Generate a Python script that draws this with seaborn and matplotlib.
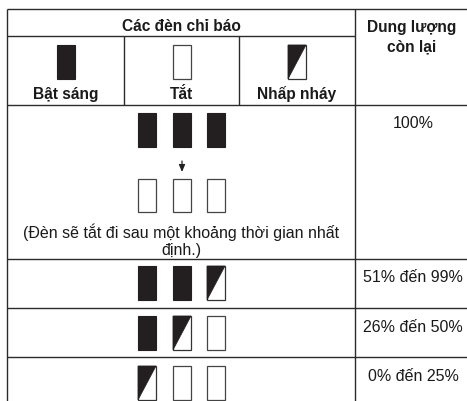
import matplotlib
matplotlib.use("Agg")
import matplotlib.pyplot as plt
from matplotlib.patches import Rectangle, Polygon
import seaborn as sns

# ---- data ----
header_left = "Các đèn chỉ báo"
header_right = ["Dung lượng", "còn lại"]
indicator_labels = ["Bật sáng", "Tắt", "Nhấp nháy"]
indicator_states = ["on", "off", "blink"]
capacity_labels = ["100%", "51% đến 99%", "26% đến 50%", "0% đến 25%"]
row_patterns = [["on", "on", "on"],
                ["on", "on", "blink"],
                ["on", "blink", "off"],
                ["blink", "off", "off"]]
full_after_pattern = ["off", "off", "off"]
note_lines = ["(Đèn sẽ tắt đi sau một khoảng thời gian nhất", "định.)"]

sns.set_theme(style="white")
plt.rcParams['font.family'] = ['Liberation Sans', 'DejaVu Sans']

W, H = 467, 402
fig = plt.figure(figsize=(W / 100, H / 100), dpi=100)
ax = fig.add_axes([0, 0, 1, 1])
ax.set_xlim(0, W)
ax.set_ylim(H, 0)
ax.axis("off")

LINE = "#2b2b2b"
FILL = "#231f20"
TXT = "#1a1a1a"
LW = 1.0
FSB = 11.2
FS = 11.5

def hline(y, x0, x1):
    ax.plot([x0, x1], [y, y], color=LINE, lw=LW, solid_capstyle="butt")

def vline(x, y0, y1):
    ax.plot([x, x], [y0, y1], color=LINE, lw=LW, solid_capstyle="butt")

def lamp(cx, top, state, w=18, h=34):
    x0 = cx - w / 2
    if state == "on":
        ax.add_patch(Rectangle((x0, top), w, h, facecolor=FILL, edgecolor=FILL, lw=0.8))
    elif state == "off":
        ax.add_patch(Rectangle((x0, top), w, h, facecolor="white", edgecolor="#444444", lw=0.9))
    else:
        ax.add_patch(Rectangle((x0, top), w, h, facecolor="white", edgecolor="#333333", lw=0.9))
        ax.add_patch(Polygon([(x0, top), (x0 + w, top), (x0, top + h)], closed=True,
                             facecolor=FILL, edgecolor=FILL, lw=0.5))

# ---- grid ----
left, mid, right = 7, 355, W
top = 10
hline(top, left, right)
hline(37, left, mid)
for y in [106, 259.5, 309, 358]:
    hline(y, left, right)
vline(left, top, H)
vline(mid, top, H)
vline(124, 37, 106)
vline(239, 37, 106)

# ---- header ----
ax.text(181.5, 31, header_left, ha="center", va="baseline", fontsize=FSB,
        fontweight="bold", color=TXT)
for i, s in enumerate(header_right):
    ax.text(412, 32 + 19 * i, s, ha="center", va="baseline", fontsize=FSB,
            fontweight="bold", color=TXT)
col_centers = [66, 181.5, 297]
for cx, lab, st in zip(col_centers, indicator_labels, indicator_states):
    lamp(cx, 46, st)
    ax.text(cx, 99, lab, ha="center", va="baseline", fontsize=FSB,
            fontweight="bold", color=TXT)

# ---- body ----
lamp_x = [147, 182, 216]
row_tops = [114, 267, 317, 367]
label_base = [128, 282, 332, 381]
for i, (pat, cap) in enumerate(zip(row_patterns, capacity_labels)):
    for cx, st in zip(lamp_x, pat):
        lamp(cx, row_tops[i], st)
    ax.text(413, label_base[i], cap, ha="center", va="baseline", fontsize=FS, color=TXT)

# full row transition
ax.annotate("", xy=(182, 173), xytext=(182, 162),
            arrowprops=dict(arrowstyle="-|>,head_length=0.35,head_width=0.15",
                            color="#222222", lw=0.9, shrinkA=0, shrinkB=0))
for cx, st in zip(lamp_x, full_after_pattern):
    lamp(cx, 180, st, h=33)
for i, s in enumerate(note_lines):
    ax.text(181.5, 238 + 17 * i, s, ha="center", va="baseline", fontsize=FS, color=TXT)

fig.savefig("out.png", dpi=100, facecolor="white")
